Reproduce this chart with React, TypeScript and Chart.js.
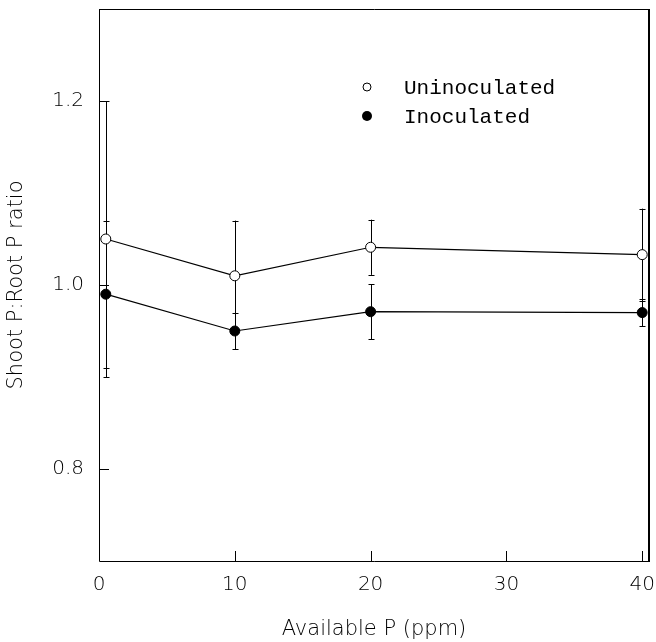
import React, { useEffect, useRef } from "react";
import { Chart, registerables } from "chart.js";

Chart.register(...registerables);

// ---- Data ----
const availableP = [0.5, 10, 20, 40];
const uninoculated = [1.05, 1.01, 1.041, 1.033];
const uninoculatedErr = [0.15, 0.06, 0.03, 0.05];
const inoculated = [0.99, 0.95, 0.971, 0.97];
const inoculatedErr = [0.08, 0.02, 0.03, 0.015];
const seriesLabels = ["Uninoculated", "Inoculated"];
const xTicks = [0, 10, 20, 30, 40];
const yTicks = [0.8, 1.0, 1.2];
const xTitle = "Available P (ppm)";
const yTitle = "Shoot P:Root P ratio";

const TICK_FONT = "'DejaVu Sans', sans-serif";
const TICK_WEIGHT = "200";

const errorBarPlugin = {
  id: "errorBars",
  beforeDatasetsDraw(chart: any) {
    const ctx = chart.ctx;
    const xs = chart.scales.x;
    const ys = chart.scales.y;
    const errs = [uninoculatedErr, inoculatedErr];
    const vals = [uninoculated, inoculated];
    ctx.save();
    ctx.strokeStyle = "#000";
    ctx.lineWidth = 1;
    vals.forEach((series, si) => {
      series.forEach((v, i) => {
        const e = errs[si][i];
        const px = Math.round(xs.getPixelForValue(availableP[i])) + 0.5;
        const top = ys.getPixelForValue(v + e);
        const bot = ys.getPixelForValue(v - e);
        ctx.beginPath();
        ctx.moveTo(px, top);
        ctx.lineTo(px, bot);
        ctx.moveTo(px - 3, Math.round(top) + 0.5);
        ctx.lineTo(px + 3, Math.round(top) + 0.5);
        ctx.moveTo(px - 3, Math.round(bot) + 0.5);
        ctx.lineTo(px + 3, Math.round(bot) + 0.5);
        ctx.stroke();
      });
    });
    ctx.restore();
  },
  afterDraw(chart: any) {
    const ctx = chart.ctx;
    const a = chart.chartArea;
    const xs = chart.scales.x;
    const ys = chart.scales.y;
    ctx.save();
    ctx.strokeStyle = "#000";
    ctx.lineWidth = 1;
    // frame
    ctx.beginPath();
    ctx.moveTo(a.left + 0.5, a.top + 0.5);
    ctx.lineTo(a.right, a.top + 0.5);
    ctx.moveTo(a.left + 0.5, a.top);
    ctx.lineTo(a.left + 0.5, a.bottom + 0.5);
    ctx.lineTo(a.right, a.bottom + 0.5);
    ctx.stroke();
    ctx.lineWidth = 2;
    ctx.beginPath();
    ctx.moveTo(a.right, a.top);
    ctx.lineTo(a.right, a.bottom + 1);
    ctx.stroke();
    ctx.lineWidth = 1;
    // inward ticks
    ctx.beginPath();
    xTicks.forEach((t) => {
      const px = Math.round(xs.getPixelForValue(t)) + 0.5;
      ctx.moveTo(px, a.bottom);
      ctx.lineTo(px, a.bottom - 10);
    });
    yTicks.forEach((t) => {
      const py = Math.round(ys.getPixelForValue(t)) + 0.5;
      ctx.moveTo(a.left, py);
      ctx.lineTo(a.left + 10, py);
    });
    ctx.stroke();
    // legend
    const lx = a.left + 268;
    const ly = a.top + 78;
    ctx.font = "21px 'Liberation Mono', monospace";
    ctx.textBaseline = "middle";
    ctx.textAlign = "left";
    ctx.fillStyle = "#000";
    chart.data.datasets.forEach((ds: any, i: number) => {
      const cy = ly + i * 29;
      ctx.beginPath();
      ctx.arc(lx, cy, i === 0 ? 4 : 5, 0, Math.PI * 2);
      if (i === 0) {
        ctx.fillStyle = "#fff";
        ctx.fill();
        ctx.stroke();
      } else {
        ctx.fillStyle = "#000";
        ctx.fill();
      }
      ctx.fillStyle = "#000";
      ctx.fillText(ds.label, lx + 37, cy + 1);
    });
    ctx.restore();
  },
};

export default function App() {
  const ref = useRef<HTMLCanvasElement | null>(null);
  useEffect(() => {
    document.body.style.margin = "0";
    const canvas = ref.current!;
    const tickFont = { family: TICK_FONT, size: 20, weight: TICK_WEIGHT };
    const titleFont = { family: TICK_FONT, size: 21, weight: TICK_WEIGHT };
    const chart = new Chart(canvas, {
      type: "line",
      data: {
        datasets: [
          {
            label: seriesLabels[0],
            data: availableP.map((x, i) => ({ x, y: uninoculated[i] })),
            borderColor: "#000",
            borderWidth: 1.2,
            pointRadius: 5,
            pointBackgroundColor: "#fff",
            pointBorderColor: "#000",
            pointBorderWidth: 1,
            tension: 0,
          },
          {
            label: seriesLabels[1],
            data: availableP.map((x, i) => ({ x, y: inoculated[i] })),
            borderColor: "#000",
            borderWidth: 1.2,
            pointRadius: 5,
            pointBackgroundColor: "#000",
            pointBorderColor: "#000",
            pointBorderWidth: 1,
            tension: 0,
          },
        ],
      },
      options: {
        responsive: false,
        animation: false,
        layout: { padding: { top: 9, right: 7, left: 0, bottom: 0 } },
        plugins: { legend: { display: false }, tooltip: { enabled: false } },
        scales: {
          x: {
            type: "linear",
            min: 0,
            max: 40.5,
            border: { display: false },
            grid: { display: false, drawTicks: false },
            afterBuildTicks: (s: any) => {
              s.ticks = xTicks.map((v) => ({ value: v }));
            },
            afterFit: (s: any) => {
              s.height = 81;
              s.paddingRight = 0;
              s.paddingLeft = 0;
            },
            ticks: {
              padding: 12,
              color: "#000",
              font: tickFont,
              callback: (v: any) => String(v),
            },
            title: {
              display: true,
              text: xTitle,
              color: "#000",
              font: titleFont,
              padding: { top: 0, bottom: 0 },
            },
          },
          y: {
            type: "linear",
            min: 0.7,
            max: 1.3,
            border: { display: false },
            grid: { display: false, drawTicks: false },
            afterBuildTicks: (s: any) => {
              s.ticks = yTicks.map((v) => ({ value: v }));
            },
            afterFit: (s: any) => {
              s.width = 99;
              s.paddingTop = 0;
              s.paddingBottom = 0;
            },
            ticks: {
              padding: 15,
              color: "#000",
              font: tickFont,
              callback: (v: any) => Number(v).toFixed(1),
            },
            title: {
              display: true,
              text: yTitle,
              color: "#000",
              font: titleFont,
              padding: { top: 4, bottom: 0 },
            },
          },
        },
      },
      plugins: [errorBarPlugin],
    });
    return () => chart.destroy();
  }, []);
  return (
    <div style={{ width: 656, height: 642, background: "#fff" }}>
      <canvas ref={ref} width={656} height={642} style={{ display: "block" }} />
    </div>
  );
}
